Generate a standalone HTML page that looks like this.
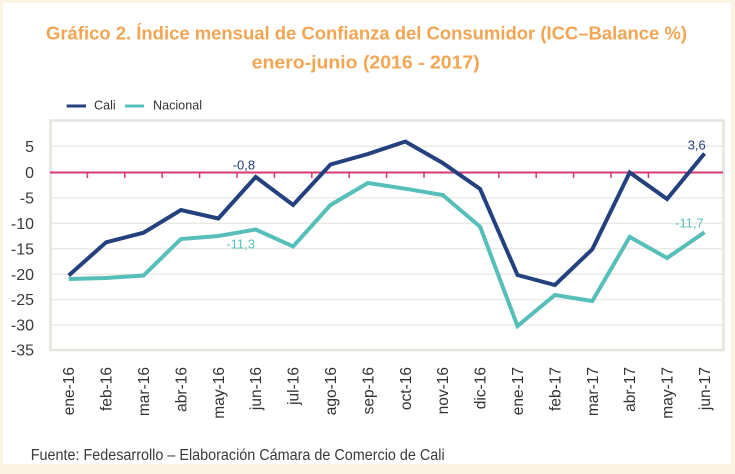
<!DOCTYPE html>
<html><head><meta charset="utf-8"><style>
html,body{margin:0;padding:0;background:#fdf3e5;}
svg{display:block;}
text{font-family:"Liberation Sans",sans-serif;}
</style></head><body>
<svg width="735" height="474" viewBox="0 0 735 474" xmlns="http://www.w3.org/2000/svg">
<rect x="0" y="0" width="735" height="474" fill="#fdf3e5"/>
<rect x="3" y="3" width="728" height="461" fill="#ffffff"/>
<!-- title -->
<text x="46" y="39.3" font-size="18.5" font-weight="bold" fill="#f2a553" textLength="641" lengthAdjust="spacingAndGlyphs">Gráfico 2. Índice mensual de Confianza del Consumidor (ICC–Balance %)</text>
<text x="251.7" y="68.3" font-size="18.5" font-weight="bold" fill="#f2a553" textLength="228" lengthAdjust="spacingAndGlyphs">enero-junio (2016 - 2017)</text>
<!-- legend -->
<line x1="66.7" y1="106" x2="86" y2="106" stroke="#24417f" stroke-width="3"/>
<text x="94" y="109.5" font-size="13" fill="#333" textLength="21.7" lengthAdjust="spacingAndGlyphs">Cali</text>
<line x1="125" y1="106" x2="144" y2="106" stroke="#56bfba" stroke-width="3"/>
<text x="153" y="109.5" font-size="13" fill="#333" textLength="49" lengthAdjust="spacingAndGlyphs">Nacional</text>
<!-- gridlines -->
<g stroke="#ebebe5" stroke-width="1.5">
<line x1="50" y1="146.3" x2="723" y2="146.3"/>
<line x1="50" y1="197.8" x2="723" y2="197.8"/>
<line x1="50" y1="223.3" x2="723" y2="223.3"/>
<line x1="50" y1="248.8" x2="723" y2="248.8"/>
<line x1="50" y1="274.3" x2="723" y2="274.3"/>
<line x1="50" y1="299.6" x2="723" y2="299.6"/>
<line x1="50" y1="325" x2="723" y2="325"/>
</g>
<!-- plot border -->
<rect x="50.5" y="120.5" width="673" height="229.5" fill="none" stroke="#e5e5df" stroke-width="2.5"/>
<!-- y labels -->
<g font-size="16" fill="#3a3a3a" text-anchor="end">
<text x="34" y="151.8">5</text>
<text x="34" y="178">0</text>
<text x="34" y="203.3">-5</text>
<text x="34" y="228.8">-10</text>
<text x="34" y="254.3">-15</text>
<text x="34" y="279.8">-20</text>
<text x="34" y="305.1">-25</text>
<text x="34" y="330.5">-30</text>
<text x="34" y="355.5">-35</text>
</g>
<!-- zero line and ticks -->
<line x1="50" y1="172.5" x2="723" y2="172.5" stroke="#d63a72" stroke-width="2"/>
<g stroke="#d63a72" stroke-width="1.5">
<line x1="87.4" y1="172.5" x2="87.4" y2="178"/>
<line x1="124.8" y1="172.5" x2="124.8" y2="178"/>
<line x1="162.2" y1="172.5" x2="162.2" y2="178"/>
<line x1="199.6" y1="172.5" x2="199.6" y2="178"/>
<line x1="237" y1="172.5" x2="237" y2="178"/>
<line x1="274.4" y1="172.5" x2="274.4" y2="178"/>
<line x1="311.8" y1="172.5" x2="311.8" y2="178"/>
<line x1="349.2" y1="172.5" x2="349.2" y2="178"/>
<line x1="386.6" y1="172.5" x2="386.6" y2="178"/>
<line x1="424" y1="172.5" x2="424" y2="178"/>
<line x1="461.4" y1="172.5" x2="461.4" y2="178"/>
<line x1="498.8" y1="172.5" x2="498.8" y2="178"/>
<line x1="536.2" y1="172.5" x2="536.2" y2="178"/>
<line x1="573.6" y1="172.5" x2="573.6" y2="178"/>
<line x1="611" y1="172.5" x2="611" y2="178"/>
<line x1="648.4" y1="172.5" x2="648.4" y2="178"/>
<line x1="685.8" y1="172.5" x2="685.8" y2="178"/>
</g>
<!-- Nacional -->
<polyline fill="none" stroke="#56bfba" stroke-width="4" stroke-linejoin="miter" points="68.7,279 106.1,278 143.5,275.5 180.9,239 218.3,236 255.7,229.5 293.1,246.5 330.5,205 367.9,183 405.3,188.7 442.7,195 480.1,226.7 517.5,326 554.9,295 592.3,301 629.7,237 667.1,258 704.5,232.3"/>
<!-- Cali -->
<polyline fill="none" stroke="#24417f" stroke-width="4" stroke-linejoin="miter" points="68.7,275.5 106.1,242.3 143.5,232.7 180.9,210 218.3,218.5 255.7,177 293.1,205 330.5,164.5 367.9,154 405.3,141.5 442.7,163 480.1,189 517.5,275 554.9,285 592.3,249.3 629.7,172.5 667.1,199 704.5,153.5"/>
<!-- data labels -->
<text x="232.7" y="169.3" font-size="13" fill="#24417f">-0,8</text>
<text x="255" y="248.5" font-size="13" fill="#56bfba" text-anchor="end">-11,3</text>
<text x="687.7" y="149.3" font-size="13" fill="#24417f">3,6</text>
<text x="675" y="227.3" font-size="13" fill="#56bfba">-11,7</text>
<!-- x labels -->
<g font-size="15.5" fill="#333" text-anchor="end">
<text transform="translate(74.2,367) rotate(-90)">ene-16</text>
<text transform="translate(111.6,367) rotate(-90)">feb-16</text>
<text transform="translate(149,367) rotate(-90)">mar-16</text>
<text transform="translate(186.4,367) rotate(-90)">abr-16</text>
<text transform="translate(223.8,367) rotate(-90)">may-16</text>
<text transform="translate(261.2,367) rotate(-90)">jun-16</text>
<text transform="translate(298.6,367) rotate(-90)">jul-16</text>
<text transform="translate(336,367) rotate(-90)">ago-16</text>
<text transform="translate(373.4,367) rotate(-90)">sep-16</text>
<text transform="translate(410.8,367) rotate(-90)">oct-16</text>
<text transform="translate(448.2,367) rotate(-90)">nov-16</text>
<text transform="translate(485.6,367) rotate(-90)">dic-16</text>
<text transform="translate(523,367) rotate(-90)">ene-17</text>
<text transform="translate(560.4,367) rotate(-90)">feb-17</text>
<text transform="translate(597.8,367) rotate(-90)">mar-17</text>
<text transform="translate(635.2,367) rotate(-90)">abr-17</text>
<text transform="translate(672.6,367) rotate(-90)">may-17</text>
<text transform="translate(710,367) rotate(-90)">jun-17</text>
</g>
<!-- footer -->
<text x="30.7" y="460" font-size="15.5" fill="#3a3a3a" textLength="414" lengthAdjust="spacingAndGlyphs">Fuente: Fedesarrollo – Elaboración Cámara de Comercio de Cali</text>
</svg>
</body></html>
